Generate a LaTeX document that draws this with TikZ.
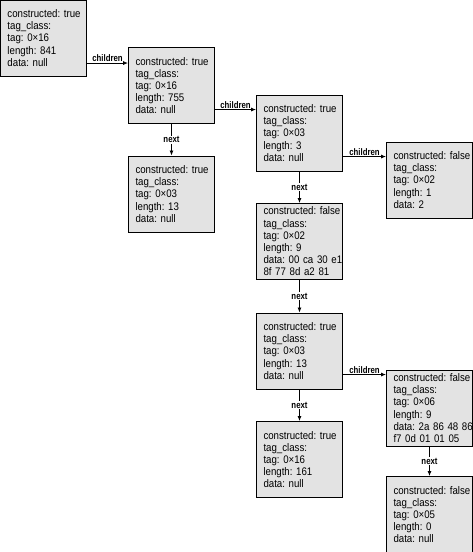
\documentclass[tikz,border=0pt]{standalone}
\usepackage{fontspec}
\usepackage{tikz}
\usetikzlibrary{arrows.meta, positioning, calc}
\newfontfamily\boxfont[FakeStretch=0.88]{Liberation Sans}
\newfontfamily\lblfont[FakeStretch=0.82]{Liberation Sans}

\tikzset{
  rec/.style={draw=black, line width=0.9pt, fill=gray!22, minimum height=76pt,
    text width=72pt, inner xsep=7pt, inner ysep=0pt, align=left,
    font=\boxfont\fontsize{11}{12.2}\selectfont\frenchspacing},
  link/.style={line width=0.8pt, -{Latex[length=5pt,width=4pt]}},
  lbl/.style={font=\lblfont\bfseries\fontsize{9.5}{10}\selectfont, inner sep=1pt},
}

\begin{document}
\begin{tikzpicture}[x=1pt, y=-1pt]
            \useasboundingbox (0,0) rectangle (473,552);
            % records
            \node[rec] (root) at (43.5,38) {constructed:~true\\tag\_class:\\tag: 0×16\\length: 841\\data: null};
            \node[rec] (cert) at (171.5,85.5) {constructed:~true\\tag\_class:\\tag: 0×16\\length: 755\\data: null};
            \node[rec] (sigalg) at (171.5,194) {constructed:~true\\tag\_class:\\tag: 0×03\\length: 13\\data: null};
            \node[rec] (ver) at (299.5,133) {constructed:~true\\tag\_class:\\tag: 0×03\\length: 3\\data: null};
            \node[rec] (vernum) at (429.5,180) {constructed:~false\\tag\_class:\\tag: 0×02\\length: 1\\data: 2};
            \node[rec] (serial) at (299.5,241.5) {constructed:~false\\tag\_class:\\tag: 0×02\\length: 9\\data:~00~ca~30~e1\\8f 77 8d a2 81};
            \node[rec] (alg) at (299.5,351) {constructed:~true\\tag\_class:\\tag: 0×03\\length: 13\\data: null};
            \node[rec] (oid) at (429.5,408) {constructed:~false\\tag\_class:\\tag: 0×06\\length: 9\\data:~2a~86~48~86\\f7 0d 01 01 05};
            \node[rec] (issuer) at (299.5,459.5) {constructed:~true\\tag\_class:\\tag: 0×16\\length: 161\\data: null};
            \node[rec] (params) at (429.5,514.5) {constructed:~false\\tag\_class:\\tag: 0×05\\length: 0\\data: null};
            % where the children arrows come in
            \coordinate (incert) at ([yshift=-16pt]cert.north west);
            \coordinate (inver) at ([yshift=-15pt]ver.north west);
            \coordinate (invernum) at ([yshift=-15pt]vernum.north west);
            \coordinate (inoid) at ([yshift=-5pt]oid.north west);
            % children
            \draw[link] (root.east |- incert) -- node[lbl, above] {children} (incert);
            \draw[link] (cert.east |- inver) -- node[lbl, above] {children} (inver);
            \draw[link] (ver.east |- invernum) -- node[lbl, above] {children} (invernum);
            \draw[link] (alg.east |- inoid) -- node[lbl, above] {children} (inoid);
            % next
            \draw[link] (cert) -- node[lbl, fill=white] {next} (sigalg);
            \draw[link] (ver) -- node[lbl, fill=white] {next} (serial);
            \draw[link] (serial) -- node[lbl, fill=white] {next} (alg);
            \draw[link] (alg) -- node[lbl, fill=white] {next} (issuer);
            \draw[link] (oid) -- node[lbl, fill=white] {next} (params);
        \end{tikzpicture}
\end{document}
